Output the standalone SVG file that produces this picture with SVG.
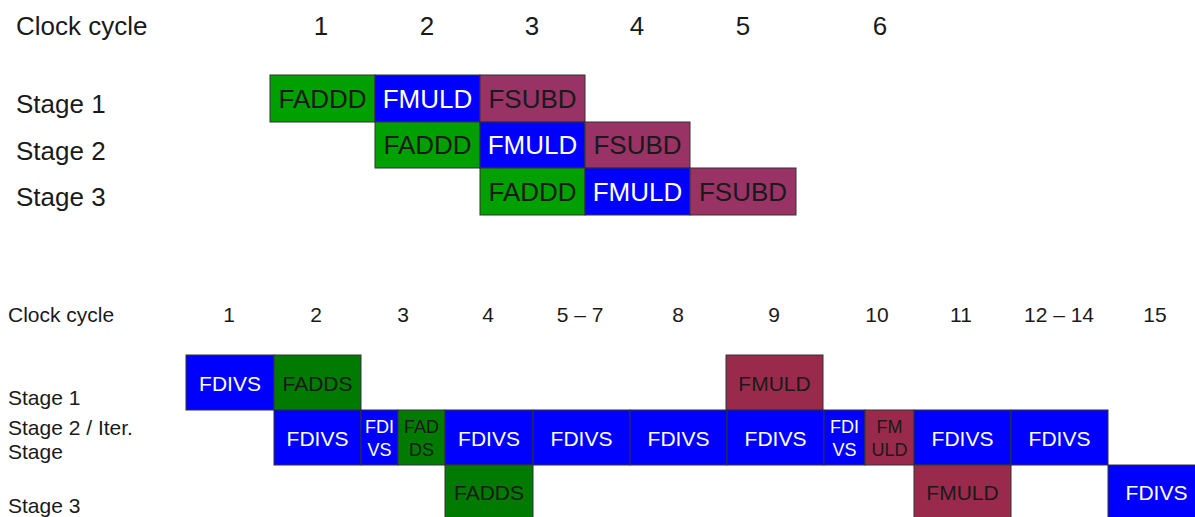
<svg xmlns="http://www.w3.org/2000/svg" width="1195" height="517" viewBox="0 0 1195 517">
<style>
text{font-family:"Liberation Sans",Arial,sans-serif;fill:#1a1a1a;dominant-baseline:central}
.t{font-size:26px}
.b{font-size:21px}
.s{font-size:18px}
.m{text-anchor:middle}
rect{stroke:#333;stroke-width:1}
.g1{fill:#00a000}.bl{fill:#0000ff}.mg{fill:#993366}
.g2{fill:#007a00}.mr{fill:#992a4c}
.w{fill:#fff}
</style>
<g id="top-labels">
<text class="t" x="16" y="26">Clock cycle</text>
<text class="t m" x="321" y="26">1</text>
<text class="t m" x="427" y="26">2</text>
<text class="t m" x="532" y="26">3</text>
<text class="t m" x="637" y="26">4</text>
<text class="t m" x="743" y="26">5</text>
<text class="t m" x="880" y="26">6</text>
<text class="t" x="16" y="104">Stage 1</text>
<text class="t" x="16" y="151">Stage 2</text>
<text class="t" x="16" y="197">Stage 3</text>
</g>
<g id="top-s1">
<rect class="g1" x="270" y="75" width="105" height="47"/><text class="t m" x="322.5" y="98.5">FADDD</text>
<rect class="bl" x="375" y="75" width="105" height="47"/><text class="t m w" x="427.5" y="98.5">FMULD</text>
<rect class="mg" x="480" y="75" width="105" height="47"/><text class="t m" x="532.5" y="98.5">FSUBD</text>
</g>
<g id="top-s2">
<rect class="g1" x="375" y="122" width="105" height="46"/><text class="t m" x="427.5" y="145">FADDD</text>
<rect class="bl" x="480" y="122" width="105" height="46"/><text class="t m w" x="532.5" y="145">FMULD</text>
<rect class="mg" x="585" y="122" width="105" height="46"/><text class="t m" x="637.5" y="145">FSUBD</text>
</g>
<g id="top-s3">
<rect class="g1" x="480" y="168" width="105" height="47"/><text class="t m" x="532.5" y="191.5">FADDD</text>
<rect class="bl" x="585" y="168" width="105" height="47"/><text class="t m w" x="637.5" y="191.5">FMULD</text>
<rect class="mg" x="690" y="168" width="106" height="47"/><text class="t m" x="743" y="191.5">FSUBD</text>
</g>
<g id="bottom-labels">
<text class="b" x="8" y="314">Clock cycle</text>
<text class="b m" x="229" y="314">1</text>
<text class="b m" x="316" y="314">2</text>
<text class="b m" x="403" y="314">3</text>
<text class="b m" x="488" y="314">4</text>
<text class="b m" x="580" y="314">5 – 7</text>
<text class="b m" x="678" y="314">8</text>
<text class="b m" x="774" y="314">9</text>
<text class="b m" x="877" y="314">10</text>
<text class="b m" x="961" y="314">11</text>
<text class="b m" x="1059" y="314">12 – 14</text>
<text class="b m" x="1155" y="314">15</text>
<text class="b" x="8" y="397">Stage 1</text>
<text class="b" x="8" y="427">Stage 2 / Iter.</text>
<text class="b" x="8" y="451">Stage</text>
<text class="b" x="8" y="505">Stage 3</text>
</g>
<g id="bot-s1">
<rect class="bl" x="186" y="355" width="88" height="55"/><text class="b m w" x="230" y="383">FDIVS</text>
<rect class="g2" x="274" y="355" width="87" height="55"/><text class="b m" x="317.5" y="383">FADDS</text>
<rect class="mr" x="726" y="355" width="97" height="55"/><text class="b m" x="774.5" y="383">FMULD</text>
</g>
<g id="bot-s2">
<rect class="bl" x="274" y="410" width="87" height="55"/><text class="b m w" x="317.5" y="438">FDIVS</text>
<rect class="bl" x="361" y="410" width="37" height="55"/><text class="s m w" x="379.5" y="427">FDI</text><text class="s m w" x="379.5" y="450">VS</text>
<rect class="g2" x="398" y="410" width="47" height="55"/><text class="s m" x="421.5" y="427">FAD</text><text class="s m" x="421.5" y="450">DS</text>
<rect class="bl" x="445" y="410" width="88" height="55"/><text class="b m w" x="489" y="438">FDIVS</text>
<rect class="bl" x="533" y="410" width="97" height="55"/><text class="b m w" x="581.5" y="438">FDIVS</text>
<rect class="bl" x="630" y="410" width="97" height="55"/><text class="b m w" x="678.5" y="438">FDIVS</text>
<rect class="bl" x="727" y="410" width="97" height="55"/><text class="b m w" x="775.5" y="438">FDIVS</text>
<rect class="bl" x="824" y="410" width="41" height="55"/><text class="s m w" x="844.5" y="427">FDI</text><text class="s m w" x="844.5" y="450">VS</text>
<rect class="mr" x="865" y="410" width="49" height="55"/><text class="s m" x="889.5" y="427">FM</text><text class="s m" x="889.5" y="450">ULD</text>
<rect class="bl" x="914" y="410" width="97" height="55"/><text class="b m w" x="962.5" y="438">FDIVS</text>
<rect class="bl" x="1011" y="410" width="97" height="55"/><text class="b m w" x="1059.5" y="438">FDIVS</text>
</g>
<g id="bot-s3">
<rect class="g2" x="445" y="465" width="88" height="60"/><text class="b m" x="489" y="492">FADDS</text>
<rect class="mr" x="914" y="465" width="97" height="60"/><text class="b m" x="962.5" y="492">FMULD</text>
<rect class="bl" x="1108" y="465" width="97" height="60"/><text class="b m w" x="1156.5" y="492">FDIVS</text>
</g>
<g id="connectors"/>
</svg>
